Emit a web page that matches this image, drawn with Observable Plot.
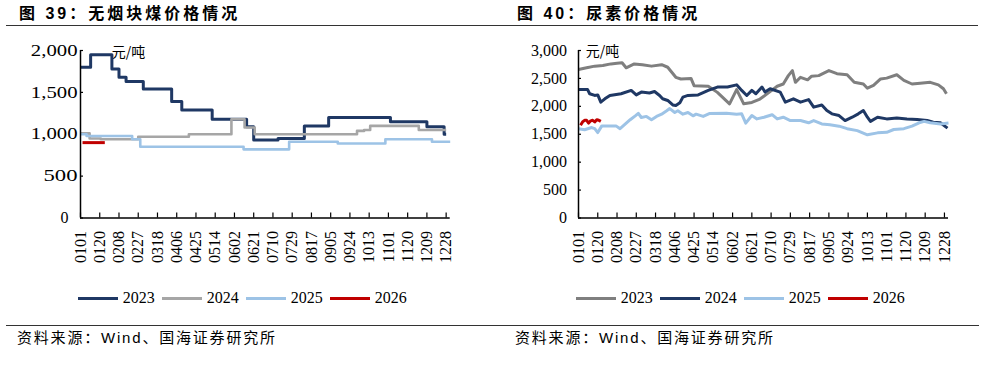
<!DOCTYPE html>
<html><head><meta charset="utf-8">
<script src="https://cdn.jsdelivr.net/npm/d3@7"></script>
<script src="https://cdn.jsdelivr.net/npm/@observablehq/plot@0.6"></script>
<style>
body{margin:0;background:#fff}
#root{position:relative;width:988px;height:366px;background:#fff;overflow:hidden}
.abs{position:absolute;white-space:nowrap}
.title{font-family:"Liberation Sans","Noto Sans CJK SC",sans-serif;font-weight:bold;font-size:16px;line-height:17px;letter-spacing:3px;color:#000}
.hline{position:absolute;height:1.5px;background:#333}
.foot{font-family:"Liberation Sans","Noto Sans CJK SC",sans-serif;font-size:15px;line-height:15px;letter-spacing:1.8px;color:#000}
.unit{font-family:"Noto Sans CJK SC",sans-serif;font-size:14px;line-height:14px;color:#000}
.lg{font-family:"Liberation Serif",serif;font-size:16px;line-height:16px;color:#000}
.sw{position:absolute;height:3px;width:40px}
</style>
</head><body><div id="root"></div>
<script>
// ---------- data ----------
const tickDays = [0,19,38,57,76,95,114,133,152,171,190,209,228,247,266,285,304,323,342,361];
const tickLabels = ["0101","0120","0208","0227","0318","0406","0425","0514","0602","0621","0710","0729","0817","0905","0924","1013","1101","1120","1209","1228"];
const years = ["2023","2024","2025","2026"];

// 图39 无烟块煤 (元/吨), [day index, price]
const coal2023 = [[0,1800],[10,1950],[31,1780],[38,1680],[45,1630],[62,1540],[90,1390],[100,1290],[130,1180],[164,1090],[171,930],[195,950],[221,1100],[245,1200],[306,1150],[342,1090],[359,1000],[361,1000]];
const coal2024 = [[0,1010],[9,950],[20,940],[57,970],[107,1000],[149,1180],[162,1080],[172,1000],[273,1040],[280,1050],[286,1100],[334,1050],[361,1050]];
const coal2025 = [[0,1000],[6,980],[51,940],[59,850],[161,820],[206,910],[254,890],[301,940],[347,910],[365,910]];
const coal2026 = [[2,900],[24,900]];

// 图40 尿素 (元/吨)
const urea2023 = [[0,2660],[8,2690],[16,2720],[24,2730],[32,2760],[38,2770],[43,2780],[47,2690],[55,2760],[63,2745],[72,2720],[82,2745],[88,2700],[96,2520],[101,2490],[111,2500],[114,2370],[128,2360],[137,2250],[149,2045],[156,2300],[163,2045],[171,2070],[179,2130],[188,2250],[196,2360],[202,2400],[207,2550],[211,2640],[214,2430],[219,2520],[226,2475],[230,2540],[237,2550],[247,2640],[255,2585],[265,2565],[272,2430],[281,2400],[285,2325],[291,2375],[298,2490],[304,2505],[314,2565],[321,2465],[329,2400],[337,2415],[347,2430],[355,2385],[360,2315],[363,2225]];
const urea2024 = [[0,2300],[9,2300],[11,2225],[16,2195],[19,2205],[22,2075],[26,2135],[31,2195],[42,2225],[52,2285],[57,2205],[62,2255],[70,2240],[75,2265],[80,2195],[83,2135],[88,2105],[93,2025],[96,2015],[100,2065],[103,2165],[108,2195],[118,2205],[128,2285],[137,2345],[147,2345],[156,2385],[161,2285],[166,2195],[171,2285],[175,2225],[181,2345],[184,2255],[189,2315],[199,2255],[204,2075],[212,2135],[219,2075],[227,2120],[232,1985],[240,2025],[245,1925],[250,1865],[257,1835],[263,1745],[270,1805],[276,1865],[281,1925],[285,1805],[288,1730],[295,1805],[304,1775],[314,1790],[324,1775],[334,1765],[344,1745],[350,1715],[357,1705],[364,1610]];
const urea2025 = [[0,1600],[6,1580],[13,1620],[16,1600],[19,1530],[23,1650],[37,1650],[41,1600],[46,1680],[51,1760],[56,1830],[59,1875],[62,1800],[67,1820],[72,1760],[77,1820],[82,1860],[87,1920],[90,1960],[95,1890],[98,1920],[103,1860],[108,1890],[113,1830],[116,1860],[123,1820],[129,1870],[146,1875],[156,1860],[161,1865],[165,1700],[171,1835],[176,1775],[183,1805],[191,1850],[196,1775],[202,1805],[209,1745],[219,1745],[227,1705],[232,1745],[240,1685],[248,1670],[257,1645],[265,1600],[275,1565],[285,1490],[295,1525],[304,1535],[311,1585],[321,1600],[329,1645],[336,1705],[341,1730],[347,1705],[357,1685],[365,1700]];
const urea2026 = [[2,1660],[4,1720],[6,1750],[8,1750],[10,1700],[12,1740],[14,1750],[16,1720],[18,1760],[20,1750],[22,1730]];

const coalTicks = [0,500,1000,1500,2000];
const ureaTicks = [0,500,1000,1500,2000,2500,3000];

const NAVY="#1f3864", GRAY_L="#a6a6a6", GRAY_D="#7f7f7f", LBLUE="#9dc3e6", RED="#c00000";

// ---------- layout ----------
const root = document.getElementById("root");
function el(tag, cls, style, text){const e=document.createElement(tag);if(cls)e.className=cls;Object.assign(e.style,style||{});if(text!=null)e.textContent=text;root.appendChild(e);return e;}

el("div","abs title",{left:"19px",top:"5px"},"图 39：无烟块煤价格情况");
el("div","abs title",{left:"517px",top:"5px"},"图 40：尿素价格情况");
el("div","hline",{left:"6px",top:"24.5px",width:"972px"});
el("div","hline",{left:"6px",top:"324.5px",width:"973px"});
el("div","abs foot",{left:"17px",top:"330px"},"资料来源：Wind、国海证券研究所");
el("div","abs foot",{left:"515px",top:"330px"},"资料来源：Wind、国海证券研究所");
el("div","abs unit",{left:"111.7px",top:"44px"},"元/吨");
el("div","abs unit",{left:"585.7px",top:"43px"},"元/吨");

function legend(x0, colors){
  years.forEach((y,i)=>{
    const x = x0 + i*84;
    el("div","sw",{left:x+"px",top:"297px",background:colors[i]});
    el("div","abs lg",{left:(x+45)+"px",top:"290.2px"},y);
  });
}
legend(77.7,[NAVY,GRAY_L,LBLUE,RED]);
legend(575.7,[GRAY_D,NAVY,LBLUE,RED]);

function toRows(arr, year){return arr.map(([d,v])=>({day:d,value:v,year}));}

function panel({left, width, marginRight, yMax, yTicks, series, curve, stretch}){
  const marginLeft=80, marginTop=15, marginBottom=52.5, height=235;
  const frameW = width - marginLeft - marginRight;
  const frameH = height - marginTop - marginBottom;
  const lineMarks = series.map(s => Plot.line(toRows(s.data, s.year), {x:"day", y:"value", stroke:s.color, strokeWidth:s.w, curve, strokeLinejoin:"round", strokeLinecap:"butt"}));
  const svg = Plot.plot({
    width, height, marginLeft, marginRight, marginTop, marginBottom,
    x:{domain:[0,365], label:null},
    y:{domain:[0,yMax], label:null},
    style:{fontFamily:"'Liberation Serif', serif", fontSize:"16px", color:"#000", background:"transparent", overflow:"visible"},
    marks:[
      Plot.axisY(yTicks,{tickSize:0, tickPadding: stretch?3:11.5, tickFormat:d3.format(","), fontSize:16, fill:"#000"}),
      Plot.axisX(tickDays,{tickSize:0, tickPadding:13, tickRotate:-90, tickFormat:d=>tickLabels[tickDays.indexOf(d)], fontSize:16, fill:"#000"}),
      Plot.tickX(tickDays,{x:d=>d, insetTop: frameH-5, stroke:"#000", strokeWidth:1.2}),
      Plot.tickY(yTicks,{y:d=>d, insetRight: frameW-3, stroke:"#000", strokeWidth:1.2}),
      ...lineMarks,
      Plot.ruleX([0],{stroke:"#000", strokeWidth:1.5}),
      Plot.ruleY([0],{stroke:"#000", strokeWidth:1.5})
    ]
  });
  const holder = el("div","",{position:"absolute",left:left+"px",top:"35px",width:width+"px",height:height+"px"});
  holder.appendChild(svg);
  if (stretch){
    svg.querySelectorAll('g[aria-label="y-axis tick label"] text').forEach(t=>{
      const s=t.textContent;
      if (s==="0"){ t.setAttribute("dx","-9"); }
      else {
        const w = s.length===3 ? 34 : 46.7;
        t.setAttribute("textLength", w);
        t.setAttribute("lengthAdjust","spacingAndGlyphs");
      }
    });
  }
}

panel({left:0, width:494, marginRight:44.3, yMax:2000, yTicks:coalTicks, curve:"step-after", stretch:true,
  series:[
    {year:"2023", data:coal2023, color:NAVY, w:3},
    {year:"2024", data:coal2024, color:GRAY_L, w:2.6},
    {year:"2025", data:coal2025, color:LBLUE, w:2.6},
    {year:"2026", data:coal2026, color:RED, w:3}
  ]});

panel({left:498, width:490, marginRight:40, yMax:3000, yTicks:ureaTicks, curve:"linear", stretch:false,
  series:[
    {year:"2023", data:urea2023, color:GRAY_D, w:3},
    {year:"2024", data:urea2024, color:NAVY, w:3},
    {year:"2025", data:urea2025, color:LBLUE, w:3},
    {year:"2026", data:urea2026, color:RED, w:3}
  ]});
</script></body></html>
